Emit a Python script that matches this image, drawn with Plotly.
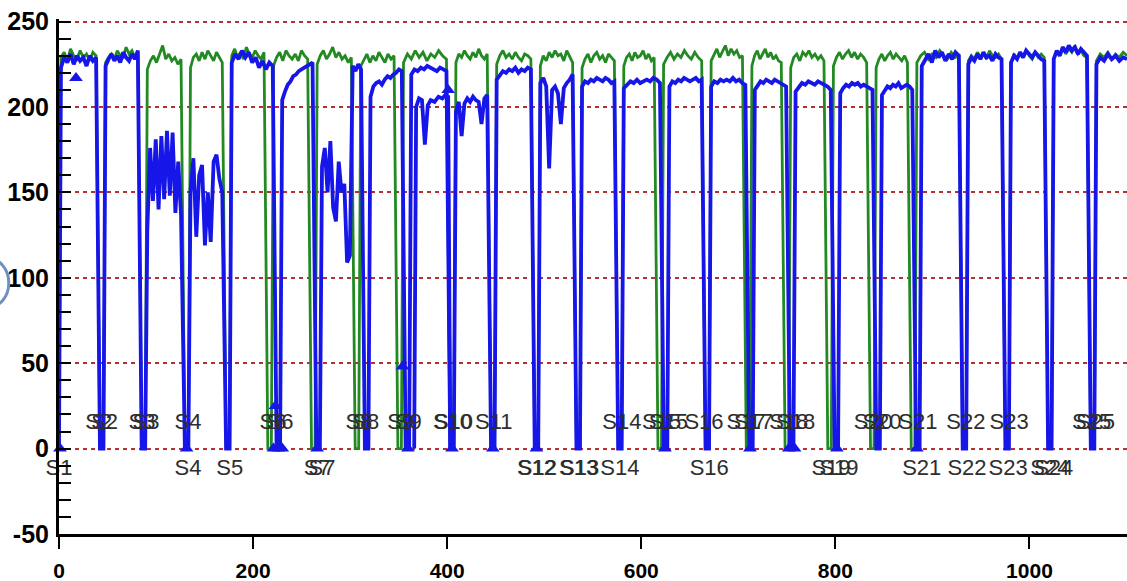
import plotly.graph_objects as go

X_END = 1100.5

# dip (zero) positions of each series
green_dips = [44, 87, 131.5, 174, 217, 262, 307, 351, 405, 447, 492, 535, 578,
              619, 668, 710, 750, 794, 838, 880, 933, 977, 1021, 1065]
blue_dips = [44, 87, 131.5, 174, 226, 267, 317, 359, 405, 447, 492, 535, 578,
             625, 668, 713, 755, 801, 844, 885, 933, 977, 1021, 1065]

# plateau readings between consecutive dips
green_levels = [
    [229, 232, 227, 234, 230, 228, 233, 229, 231, 227, 232, 230],
    [226, 229, 231, 228, 233, 230, 229, 235, 231, 233, 229, 232],
    [222, 227, 230, 226, 231, 236, 228, 231, 227, 229, 225, 228],
    [223, 229, 231, 227, 232, 228, 233, 230, 227, 232, 229, 226],
    [230, 234, 229, 232, 228, 235, 231, 229, 233, 230, 228, 232],
    [224, 229, 232, 227, 233, 230, 228, 231, 227, 233, 230, 228],
    [225, 230, 233, 228, 231, 235, 229, 232, 228, 230, 226, 229],
    [224, 228, 231, 226, 230, 227, 232, 229, 226, 231, 228, 230],
    [226, 231, 228, 233, 229, 232, 227, 231, 229, 233, 230, 228],
    [226, 231, 229, 233, 230, 228, 232, 229, 234, 230, 228, 231],
    [225, 230, 233, 229, 231, 228, 232, 229, 227, 231, 230, 228],
    [224, 230, 227, 232, 229, 233, 230, 231, 227, 233, 229, 226],
    [223, 228, 231, 226, 230, 232, 228, 230, 226, 231, 229, 227],
    [224, 229, 231, 227, 232, 229, 230, 233, 228, 231, 227, 229],
    [225, 229, 232, 228, 231, 229, 233, 230, 228, 232, 229, 227],
    [227, 231, 234, 229, 233, 236, 230, 234, 231, 233, 229, 230],
    [224, 230, 233, 228, 231, 234, 229, 232, 228, 230, 227, 226],
    [223, 229, 231, 227, 232, 230, 233, 229, 231, 228, 230, 227],
    [224, 229, 232, 228, 231, 233, 229, 232, 228, 231, 229, 226],
    [223, 228, 231, 227, 230, 232, 228, 231, 229, 227, 230, 226],
    [226, 230, 232, 228, 231, 229, 233, 230, 228, 232, 229, 230],
    [227, 230, 228, 232, 229, 231, 228, 233, 230, 229, 231, 228],
    [226, 231, 228, 232, 229, 233, 230, 228, 232, 229, 231, 229],
    [228, 233, 230, 235, 231, 234, 232, 236, 231, 233, 230, 229],
    [227, 231, 229, 232, 228, 231, 229, 232, 230],
]

blue_levels = [
    [223, 229, 226, 231, 225, 230, 227, 229, 224, 230, 227, 229],
    [224, 228, 231, 227, 230, 226, 232, 229, 227, 231, 228, 233],
    [128, 176, 145, 181, 140, 183, 146, 186, 148, 185, 138, 168, 137],
    [150, 170, 124, 160, 166, 119, 150, 121, 168, 172, 158, 150],
    [226, 231, 228, 233, 229, 232, 226, 229, 223, 227, 222, 226, 224],
    [204, 209, 213, 215, 218, 219, 221, 222, 223, 224, 225, 226],
    [165, 176, 150, 180, 141, 133, 168, 150, 155, 109, 113, 224, 221, 225, 222],
    [206, 212, 214, 215, 213, 216, 218, 217, 219, 220, 222, 221],
    [219, 222, 221, 223, 222, 224, 223, 222, 221, 223, 222, 221],
    [197, 203, 183, 202, 205, 203, 206, 204, 203, 190, 205, 207],
    [216, 219, 221, 220, 222, 221, 223, 220, 222, 221, 223, 222],
    [214, 217, 212, 164, 210, 212, 208, 190, 211, 214, 216, 219],
    [212, 215, 214, 216, 215, 217, 216, 215, 217, 216, 214, 215],
    [211, 213, 215, 214, 216, 214, 215, 216, 215, 217, 216, 214],
    [212, 215, 214, 216, 215, 217, 216, 215, 216, 217, 215, 216],
    [212, 215, 214, 216, 215, 216, 215, 217, 215, 216, 214, 213],
    [210, 213, 215, 214, 216, 215, 214, 216, 215, 214, 213, 212],
    [209, 212, 214, 213, 215, 214, 213, 215, 214, 213, 212, 210],
    [208, 211, 213, 212, 214, 213, 214, 212, 213, 212, 211, 210],
    [207, 210, 212, 211, 213, 212, 214, 211, 212, 213, 212, 210],
    [224, 228, 231, 226, 233, 229, 232, 227, 231, 228, 232, 230],
    [225, 229, 227, 231, 228, 232, 229, 230, 227, 231, 229, 228],
    [226, 230, 228, 232, 229, 233, 231, 229, 232, 230, 228, 227],
    [228, 233, 230, 235, 232, 236, 233, 235, 231, 234, 232, 230],
    [225, 229, 227, 231, 228, 230, 227, 229, 228],
]

# second blue run visible between S9 and S10
blue_extra_x = [366, 368, 371, 374, 377, 380, 383, 387, 391, 395, 398, 401, 403.2]
blue_extra_y = [0, 200, 205, 204, 178, 201, 204, 203, 206, 205, 207, 206, 0]

# triangle markers
marker_x = [1, 17.5, 131.5, 221, 226, 230, 223, 266, 354, 359.6, 401, 405, 447,
            492, 624.4, 712, 752, 758, 801.6, 884]
marker_y = [0, 217, 0, 0, 0, 0, 25, 0, 48, 0, 210, 0, 0,
            0, 0, 0, 0, 0, 0, 0]

# station labels
label_text = ["S1", "S2", "S2", "S3", "S3", "S4", "S4", "S5", "S6", "S6", "S7", "S7",
              "S8", "S8", "S9", "S9", "S10", "S10", "S11", "S12", "S12", "S13", "S13",
              "S14", "S14", "S15", "S15", "S16", "S16", "S17", "S17", "S18", "S18",
              "S19", "S19", "S20", "S20", "S21", "S21", "S22", "S22", "S23", "S23",
              "S24", "S24", "S25", "S25"]
label_x = [0, 41, 47, 85.5, 89.6, 133, 133, 176, 220.5, 227.7, 266, 271,
           309, 316, 352, 360, 405.5, 406.5, 448, 492, 493, 535.5, 536.5,
           580, 578, 621, 628, 664.6, 670, 708, 715.6, 752, 759,
           795.5, 803.7, 839, 848, 885, 889, 934.5, 935.6, 979, 978,
           1021, 1025, 1064, 1068]
label_side = ["b", "a", "a", "a", "a", "a", "b", "b", "a", "a", "b", "b",
              "a", "a", "a", "a", "a", "a", "a", "b", "b", "b", "b",
              "a", "b", "a", "a", "a", "b", "a", "a", "a", "a",
              "b", "b", "a", "a", "a", "b", "a", "b", "a", "b",
              "b", "b", "a", "a"]

x_ticks = [0, 200, 400, 600, 800, 1000]
y_ticks = [-50, 0, 50, 100, 150, 200, 250]


def build(dips, levels, half=1.8, edge=2.2):
    xs, ys = [], []
    bounds = [None] + dips + [None]
    for i, vals in enumerate(levels):
        left, right = bounds[i], bounds[i + 1]
        if left is None:
            xs.append(0)
            ys.append(0)
            x0 = 2.0
        else:
            xs.append(left + half)
            ys.append(0)
            x0 = left + half + edge
        x1 = X_END if right is None else right - half - edge * 1.8
        n = len(vals)
        for k, v in enumerate(vals):
            xs.append(x0 + (x1 - x0) * k / (n - 1))
            ys.append(v)
        if right is not None:
            xs.append(right - half)
            ys.append(0)
    return xs, ys


gx, gy = build(green_dips, green_levels)
bx, by = build(blue_dips, blue_levels)
bx = bx + [None] + blue_extra_x
by = by + [None] + blue_extra_y

FONT = "Liberation Sans, Arial, sans-serif"
GREEN = "#238a23"
BLUE = "#1616e8"

fig = go.Figure()
fig.add_trace(go.Scatter(x=gx, y=gy, mode="lines", line=dict(color=GREEN, width=2.8),
                         hoverinfo="skip", showlegend=False))
fig.add_trace(go.Scatter(x=bx, y=by, mode="lines", line=dict(color=BLUE, width=3.8),
                         connectgaps=False, hoverinfo="skip", showlegend=False))
fig.add_trace(go.Scatter(x=marker_x, y=marker_y, mode="markers", cliponaxis=False,
                         marker=dict(symbol="triangle-up", size=12, color=BLUE),
                         hoverinfo="skip", showlegend=False))
label_y = [14.6 if s == "a" else -12.5 for s in label_side]
fig.add_trace(go.Scatter(x=label_x, y=label_y, mode="text", text=label_text,
                         textposition="middle center", cliponaxis=False,
                         textfont=dict(family=FONT, size=22, color="#2e2e2e"),
                         hoverinfo="skip", showlegend=False))

fig.update_layout(
    width=1127, height=581,
    margin=dict(l=59, r=0, t=19, b=47),
    paper_bgcolor="white", plot_bgcolor="white",
    showlegend=False,
    shapes=[dict(type="circle", xref="paper", yref="paper",
                 x0=-0.085, x1=-0.047, y0=0.44, y1=0.535,
                 line=dict(color="#6f8fc0", width=3))],
)
fig.update_xaxes(
    range=[0, X_END], tickvals=x_ticks, ticktext=[str(v) for v in x_ticks],
    showgrid=False, zeroline=False, showline=True, linecolor="black", linewidth=2.5,
    ticks="outside", ticklen=12, tickwidth=2, tickcolor="black",
    ticklabelstandoff=4,
    tickfont=dict(family=FONT, size=21, color="black", weight="bold"),
)
fig.update_yaxes(
    range=[-50, 251.5], tickvals=y_ticks, ticktext=[str(v) for v in y_ticks],
    showgrid=True, gridcolor="#b83030", gridwidth=1.5, griddash="4px,4px",
    zeroline=False, showline=True, linecolor="black", linewidth=3,
    ticks="inside", ticklen=12, tickwidth=2, tickcolor="black",
    ticklabelstandoff=2,
    minor=dict(dtick=10, tick0=0, ticks="inside", ticklen=12, tickwidth=2,
               tickcolor="black", showgrid=False),
    tickfont=dict(family=FONT, size=25, color="black", weight="bold"),
)

fig.write_html("out.html", config={"displayModeBar": False},
               post_script="document.body.style.margin='0px';"
                           "document.body.style.overflow='hidden';")
